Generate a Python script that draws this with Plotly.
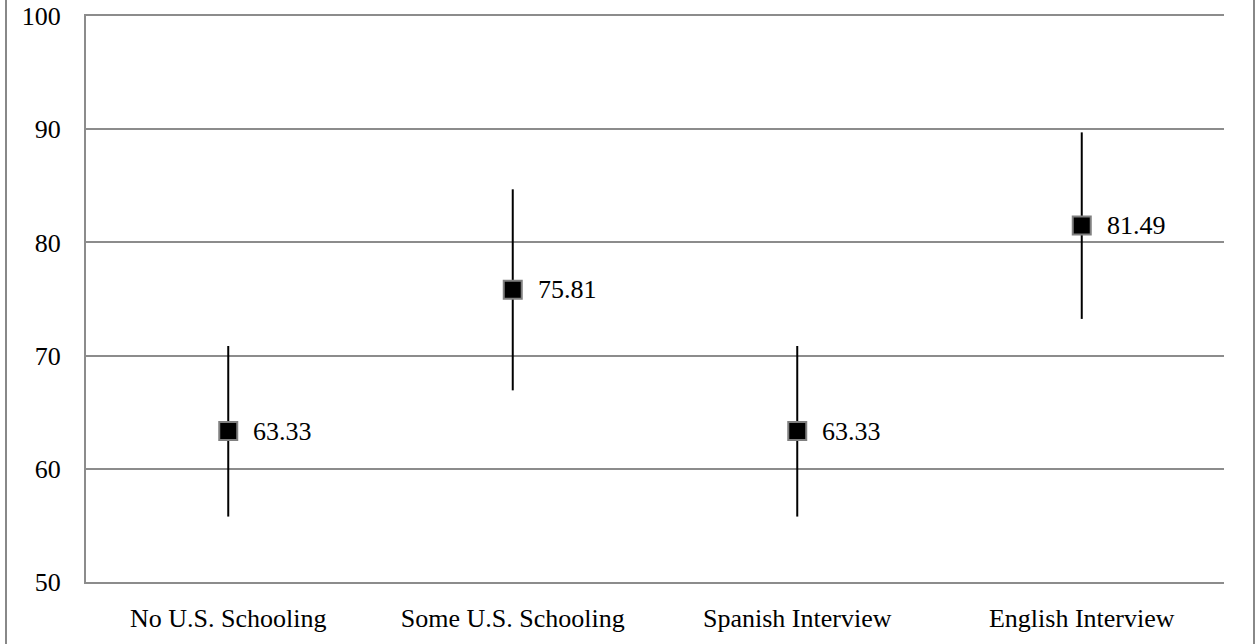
import plotly.graph_objects as go

# Group means with their 95% interval bounds
categories = ["No U.S. Schooling", "Some U.S. Schooling", "Spanish Interview", "English Interview"]
means = [63.33, 75.81, 63.33, 81.49]
upper = [70.85, 84.69, 70.85, 89.72]
lower = [55.78, 66.93, 55.78, 73.24]

err_plus = [u - m for u, m in zip(upper, means)]
err_minus = [m - l for m, l in zip(means, lower)]

W, H = 1256, 644
ML, MR, MT, MB = 86, 32, 16, 62
FONT = "Liberation Serif"
FS = 26
GRID = "#8c8c8c"

fig = go.Figure()
fig.add_trace(go.Scatter(
    x=categories,
    y=means,
    mode="markers",
    marker=dict(symbol="square", size=18, color="black",
                line=dict(color="#808080", width=2)),
    error_y=dict(type="data", symmetric=False, array=err_plus, arrayminus=err_minus,
                 color="black", thickness=2, width=0),
    showlegend=False,
    hoverinfo="skip",
))

# value labels to the right of each marker
for c, m in zip(categories, means):
    fig.add_annotation(x=c, y=m, text=f"{m:.2f}", showarrow=False,
                       xanchor="left", yanchor="middle", xshift=23,
                       font=dict(family=FONT, size=FS, color="black"))

# outer frame lines on the left and right of the page
pw = W - ML - MR
for px in (6, W - 2):
    fig.add_shape(type="line", xref="paper", yref="paper",
                  x0=(px - ML) / pw, x1=(px - ML) / pw, y0=-0.2, y1=1.2,
                  line=dict(color="#888888", width=2))

fig.update_layout(
    width=W, height=H,
    margin=dict(l=ML, r=MR, t=MT, b=MB, autoexpand=False),
    paper_bgcolor="white", plot_bgcolor="white",
    font=dict(family=FONT, size=FS, color="black"),
    xaxis=dict(range=[-0.5, 3.5], showgrid=False, showline=True, mirror=True,
               linecolor=GRID, linewidth=2, automargin=False,
               ticks="", ticklabelstandoff=12, tickfont=dict(size=FS)),
    yaxis=dict(range=[50, 100], dtick=10, showgrid=True, gridcolor=GRID, gridwidth=1.5,
               showline=True, linecolor=GRID, linewidth=2, ticks="", zeroline=False,
               automargin=False, ticklabelstandoff=18, tickfont=dict(size=FS)),
)

fig.write_html("out.html")
